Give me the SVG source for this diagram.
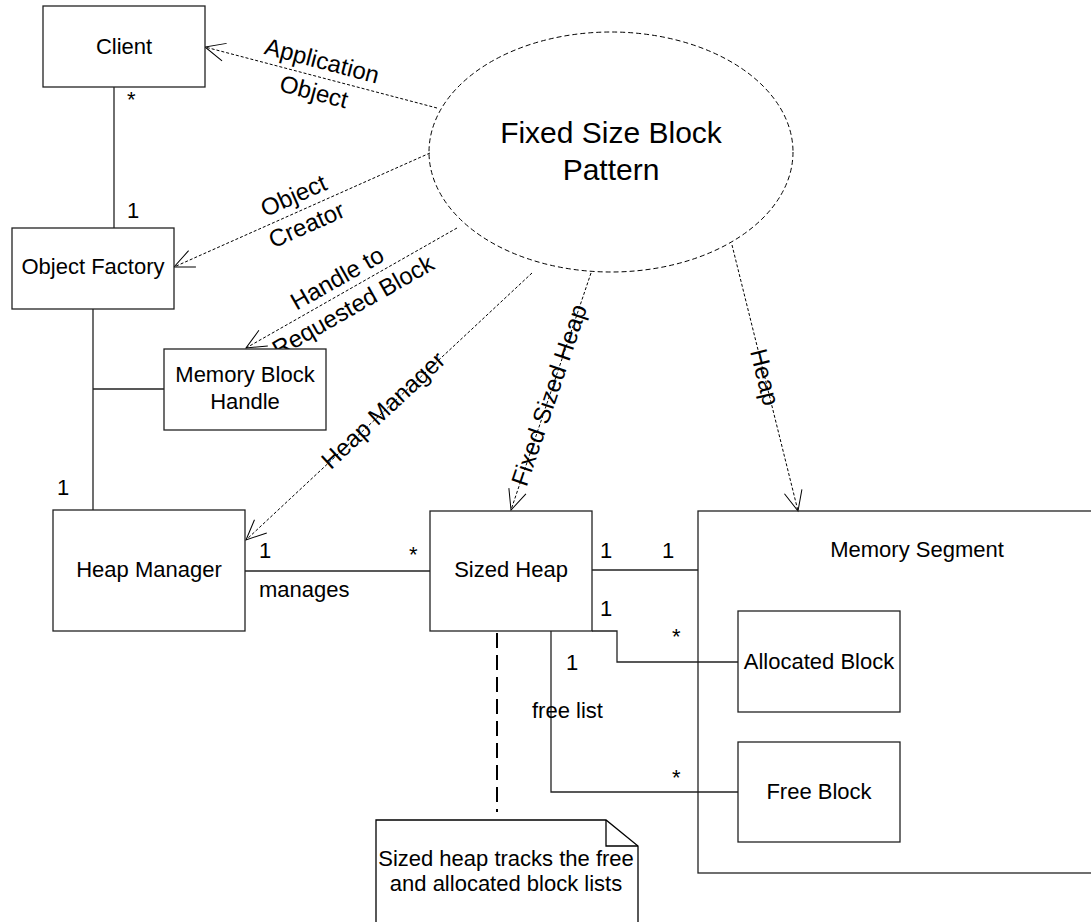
<svg xmlns="http://www.w3.org/2000/svg" width="1091" height="922" viewBox="0 0 1091 922">
  <style>
    text { font-family: "Liberation Sans", Arial, sans-serif; fill: #000; }
    .box { fill: #fff; stroke: #222; stroke-width: 1.3; }
    .t { font-size: 22px; text-anchor: middle; }
    .m { font-size: 22px; }
    .lbl { font-size: 24px; text-anchor: middle; }
    .solid { fill: none; stroke: #222; stroke-width: 1.3; }
    .dep { fill: none; stroke: #000; stroke-width: 1; stroke-dasharray: 3 2; marker-end: url(#open); }
    .anchor { fill: none; stroke: #000; stroke-width: 2; stroke-dasharray: 15 7; }
  </style>
  <defs>
    <marker id="open" viewBox="-22 -11 24 22" refX="0" refY="0" markerWidth="24" markerHeight="22" markerUnits="userSpaceOnUse" orient="auto">
      <path d="M-20,-9 L0,0 L-20,9" fill="none" stroke="#000" stroke-width="1"/>
    </marker>
  </defs>

  <rect width="1091" height="922" fill="#fff"/>

  <!-- collaboration ellipse -->
  <g id="pattern">
    <ellipse cx="611" cy="152" rx="182" ry="120" fill="#fff" stroke="#000" stroke-width="1" stroke-dasharray="5 3"/>
    <text x="611" y="143" font-size="30" text-anchor="middle">Fixed Size Block</text>
    <text x="611" y="180" font-size="30" text-anchor="middle">Pattern</text>
  </g>

  <!-- connectors -->
  <g id="connectors">
    <path class="solid" d="M114,87 V228"/>
    <path class="solid" d="M93,309 V510 M93,389 H164"/>
    <path class="solid" d="M245,571 H430"/>
    <path class="solid" d="M592,570 H698"/>
    <path class="solid" d="M592,631 H617 V662 H738"/>
    <path class="solid" d="M551,631 V792 H738"/>
    <path class="anchor" d="M497,633 V812"/>

    <path class="dep" d="M437,108 L205,47"/>
    <path class="dep" d="M430,153 L174,267"/>
    <path class="dep" d="M457,228 L246,348"/>
    <path class="dep" d="M532,273 L246,540"/>
    <path class="dep" d="M591,273 L511,510"/>
    <path class="dep" d="M732,245 L798,511"/>

    <!-- role labels -->
    <g transform="translate(318,76) rotate(14.7)">
      <text class="lbl" x="0" y="-16" dy="0.35em">Application</text>
      <text class="lbl" x="0" y="16" dy="0.35em">Object</text>
    </g>
    <g transform="translate(300,210) rotate(-24)">
      <text class="lbl" x="0" y="-16" dy="0.35em">Object</text>
      <text class="lbl" x="0" y="16" dy="0.35em">Creator</text>
    </g>
    <g transform="translate(345,292) rotate(-29.6)">
      <text class="lbl" x="0" y="-16" dy="0.35em">Handle to</text>
      <text class="lbl" x="0" y="16" dy="0.35em">Requested Block</text>
    </g>
    <text class="lbl" transform="translate(383,410) rotate(-43)" dy="0.35em">Heap Manager</text>
    <text class="lbl" transform="translate(549,395) rotate(-71.3)" dy="0.35em">Fixed Sized Heap</text>
    <text class="lbl" transform="translate(765,377) rotate(76)" dy="0.35em">Heap</text>

    <!-- multiplicities -->
    <text class="m" x="127" y="107">*</text>
    <text class="m" x="127" y="218">1</text>
    <text class="m" x="57" y="495">1</text>
    <text class="m" x="259" y="558">1</text>
    <text class="m" x="409" y="562">*</text>
    <text class="m" x="259" y="597">manages</text>
    <text class="m" x="600" y="558">1</text>
    <text class="m" x="662" y="558">1</text>
    <text class="m" x="600" y="616">1</text>
    <text class="m" x="672" y="644">*</text>
    <text class="m" x="566" y="670">1</text>
    <text class="m" x="532" y="718">free list</text>
    <text class="m" x="672" y="785">*</text>
  </g>

  <g id="client">
    <rect class="box" x="43" y="6" width="162" height="81"/>
    <text class="t" x="124" y="54">Client</text>
  </g>
  <g id="object-factory">
    <rect class="box" x="12" y="228" width="162" height="81"/>
    <text class="t" x="93" y="274">Object Factory</text>
  </g>
  <g id="memory-block-handle">
    <rect class="box" x="164" y="349" width="162" height="81"/>
    <text class="t" x="245" y="382">Memory Block</text>
    <text class="t" x="245" y="409">Handle</text>
  </g>
  <g id="heap-manager">
    <rect class="box" x="53" y="510" width="192" height="121"/>
    <text class="t" x="149" y="577">Heap Manager</text>
  </g>
  <g id="sized-heap">
    <rect class="box" x="430" y="511" width="162" height="120"/>
    <text class="t" x="511" y="577">Sized Heap</text>
  </g>
  <g id="memory-segment">
    <rect class="box" x="698" y="511" width="420" height="362" style="fill:none"/>
    <text class="t" x="917" y="557">Memory Segment</text>
  </g>
  <g id="allocated-block">
    <rect class="box" x="738" y="611" width="162" height="101"/>
    <text class="t" x="819" y="669">Allocated Block</text>
  </g>
  <g id="free-block">
    <rect class="box" x="738" y="742" width="162" height="100"/>
    <text class="t" x="819" y="799">Free Block</text>
  </g>
  <g id="note">
    <path d="M376,930 V820 H606 L638,846 V930" fill="#fff" stroke="#000" stroke-width="1.3"/>
    <path d="M606,820 V846 H638" fill="none" stroke="#000" stroke-width="1.3"/>
    <text class="t" x="506" y="866">Sized heap tracks the free</text>
    <text class="t" x="506" y="891">and allocated block lists</text>
  </g>
</svg>
